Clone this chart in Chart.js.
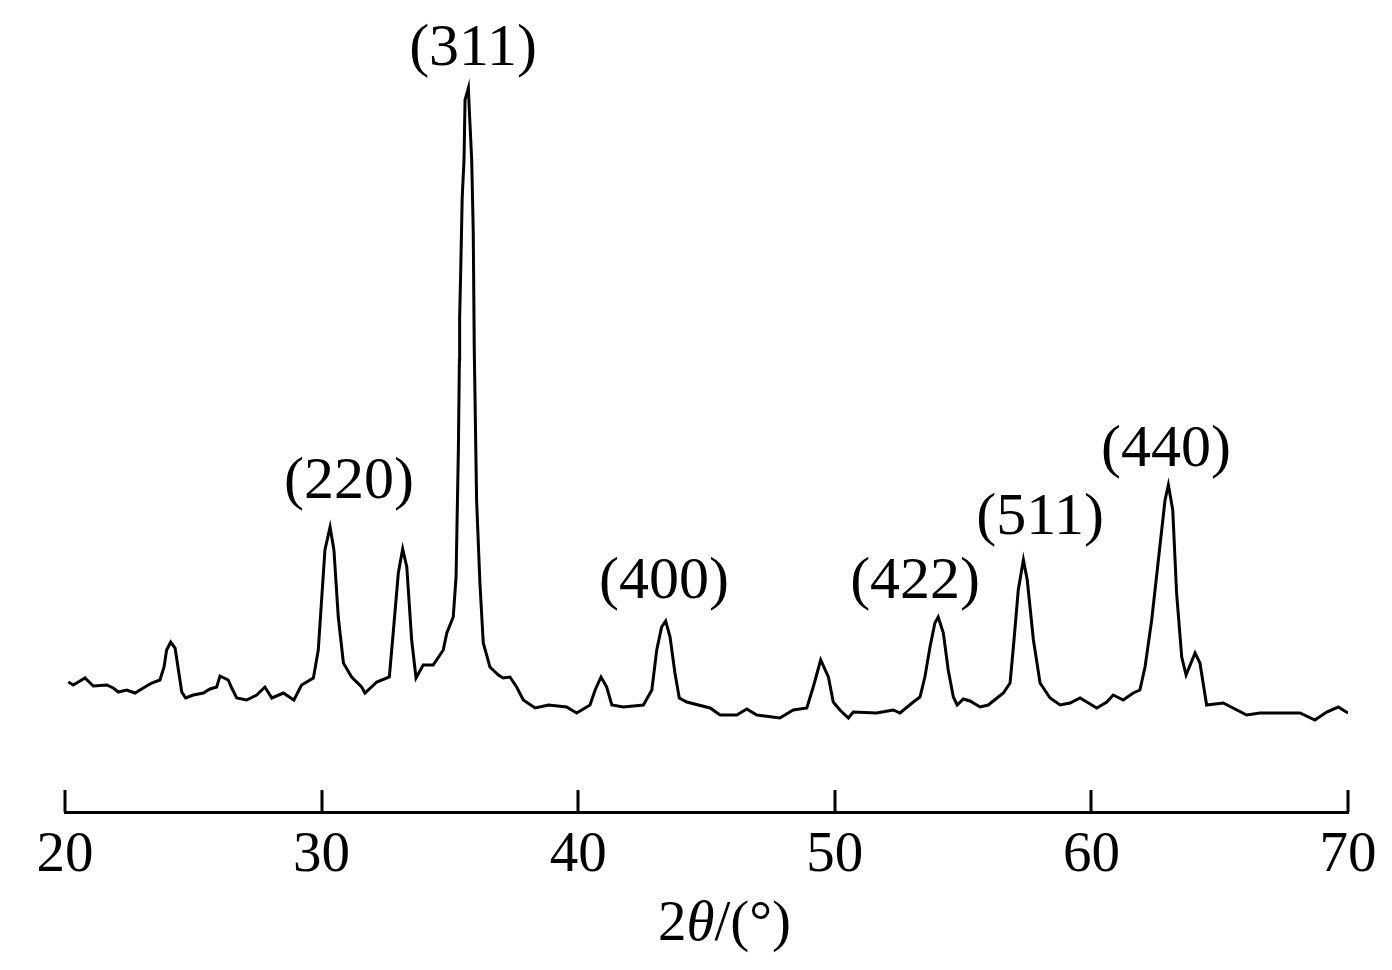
<!DOCTYPE html>
<html>
<head>
<meta charset="utf-8">
<script src="https://cdn.jsdelivr.net/npm/chart.js@4/dist/chart.umd.min.js"></script>
<style>
  html, body { margin: 0; padding: 0; background: #ffffff; }
  #wrap { width: 1392px; height: 970px; }
</style>
</head>
<body>
<div id="wrap"><canvas id="c" width="1392" height="970"></canvas></div>
<script>
// 2θ (degrees)
const twoTheta = [
  20.13, 20.32, 20.52, 20.78, 21.10, 21.63, 21.88, 22.08, 22.40, 22.73,
  23.05, 23.38, 23.70, 23.86, 23.96, 24.12, 24.29, 24.42, 24.55, 24.70,
  25.00, 25.39, 25.65, 25.91, 26.04, 26.36, 26.50, 26.69, 27.08, 27.47,
  27.79, 28.06, 28.51, 28.92, 29.22, 29.68, 29.87, 30.00, 30.13, 30.33,
  30.48, 30.65, 30.85, 31.17, 31.56, 31.69, 32.15, 32.64, 32.79, 32.99,
  33.16, 33.32, 33.51, 33.68, 33.96, 34.35, 34.74, 34.88, 35.13, 35.24,
  35.33, 35.37, 35.38, 35.42, 35.48, 35.55, 35.59, 35.72, 35.76, 35.85,
  35.91, 35.95, 36.04, 36.17, 36.30, 36.56, 36.89, 37.08, 37.34, 37.60,
  37.86, 38.32, 38.84, 39.55, 39.94, 40.46, 40.66, 40.89, 41.11, 41.31,
  41.76, 42.54, 42.87, 43.06, 43.25, 43.41, 43.58, 43.77, 43.94, 44.23,
  45.14, 45.53, 46.18, 46.57, 46.96, 47.86, 48.38, 48.91, 49.16, 49.45,
  49.75, 49.94, 50.20, 50.53, 50.72, 51.63, 52.28, 52.54, 53.06, 53.32,
  53.51, 53.71, 53.90, 54.03, 54.23, 54.42, 54.62, 54.77, 55.01, 55.27,
  55.66, 55.98, 56.57, 56.83, 56.96, 57.15, 57.35, 57.50, 57.74, 58.00,
  58.39, 58.78, 59.17, 59.56, 60.21, 60.60, 60.85, 61.24, 61.63, 61.89,
  62.09, 62.35, 62.61, 62.87, 63.00, 63.17, 63.32, 63.52, 63.69, 64.04,
  64.23, 64.49, 65.14, 66.05, 66.57, 67.35, 68.13, 68.71, 69.17, 69.62,
  70.00
];
// Intensity (arbitrary units)
const intensity = [
  130, 127, 130, 134, 126, 127, 124, 120, 122, 119,
  124, 129, 132, 145, 162, 170, 164, 142, 120, 114,
  117, 119, 123, 125, 136, 132, 124, 114, 112, 117,
  125, 114, 119, 112, 127, 134, 162, 212, 262, 285,
  262, 195, 149, 135, 125, 119, 130, 135, 179, 239,
  263, 245, 172, 134, 147, 147, 162, 179, 195, 235,
  362, 452, 495, 539, 615, 652, 712, 724, 700, 652,
  580, 462, 312, 229, 169, 145, 137, 134, 135, 125,
  112, 104, 107, 105, 99, 107, 122, 135, 125, 107,
  105, 107, 122, 162, 185, 191, 175, 139, 114, 110,
  104, 97, 97, 103, 97, 94, 102, 104, 125, 152,
  135, 110, 102, 94, 100, 99, 102, 99, 110, 115,
  135, 165, 189, 195, 179, 142, 115, 107, 113, 111,
  105, 107, 119, 129, 165, 222, 252, 232, 172, 129,
  114, 107, 109, 114, 104, 110, 117, 112, 119, 122,
  145, 192, 252, 312, 327, 302, 219, 155, 137, 159,
  149, 107, 109, 97, 99, 99, 99, 92, 100, 105,
  99
];
// Peak labels (Miller indices) and their anchor in data units
const peakLabels = ['(220)', '(311)', '(400)', '(422)', '(511)', '(440)'];
const peakLabelTheta = [31.07, 35.90, 43.34, 53.13, 58.00, 62.91];
const peakLabelLevel = [314, 747, 214, 214, 278, 346];
// Axis
const xMin = 20, xMax = 70, xStep = 10;
const yMin = 0, yMax = 812;

const serif = '"Liberation Serif", "Times New Roman", serif';

const points = twoTheta.map((t, i) => ({ x: t, y: intensity[i] }));

const decorPlugin = {
  id: 'decor',
  afterDraw(chart) {
    const ctx = chart.ctx;
    const xs = chart.scales.x, ys = chart.scales.y;
    const area = chart.chartArea;
    ctx.save();
    // inward tick marks
    ctx.strokeStyle = '#000';
    ctx.lineWidth = 3;
    xs.ticks.forEach(t => {
      const px = Math.round(xs.getPixelForValue(t.value));
      ctx.beginPath();
      ctx.moveTo(px, area.bottom);
      ctx.lineTo(px, area.bottom - 22);
      ctx.stroke();
    });
    // peak labels
    ctx.fillStyle = '#000';
    ctx.font = '60px ' + serif;
    ctx.textAlign = 'center';
    ctx.textBaseline = 'alphabetic';
    peakLabels.forEach((s, i) => {
      ctx.fillText(s, xs.getPixelForValue(peakLabelTheta[i]), ys.getPixelForValue(peakLabelLevel[i]));
    });
    // axis title: 2θ/(°) with italic theta
    const parts = [
      { s: '2', f: '57px ' + serif },
      { s: 'θ', f: 'italic 57px ' + serif },
      { s: '/(°)', f: '57px ' + serif }
    ];
    let total = 0;
    parts.forEach(p => { ctx.font = p.f; p.w = ctx.measureText(p.s).width; total += p.w; });
    let x = (area.left + area.right) / 2 - total / 2 + 18;
    const y = xs.bottom - 30;
    ctx.textAlign = 'left';
    parts.forEach(p => { ctx.font = p.f; ctx.fillText(p.s, x, y); x += p.w; });
    ctx.restore();
  }
};

new Chart(document.getElementById('c'), {
  type: 'line',
  data: {
    datasets: [{
      data: points,
      borderColor: '#000',
      borderWidth: 3,
      pointRadius: 0,
      tension: 0,
      fill: false
    }]
  },
  options: {
    responsive: false,
    animation: false,
    devicePixelRatio: 1,
    layout: { padding: { left: 65, right: 44, top: 0, bottom: 0 } },
    plugins: { legend: { display: false }, tooltip: { enabled: false } },
    scales: {
      x: {
        type: 'linear',
        min: xMin, max: xMax,
        afterFit(scale) { scale.height = 158; },
        ticks: {
          stepSize: xStep,
          color: '#000',
          padding: 10,
          maxRotation: 0,
          font: { family: serif, size: 57 }
        },
        grid: { display: false, drawTicks: false },
        border: { display: true, color: '#000', width: 3 }
      },
      y: {
        display: false,
        min: yMin, max: yMax
      }
    }
  },
  plugins: [decorPlugin]
});
</script>
</body>
</html>
